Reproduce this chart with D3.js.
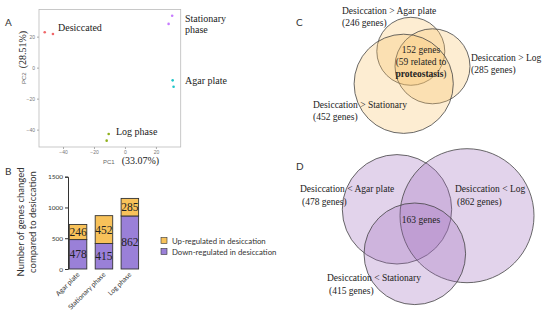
<!DOCTYPE html>
<meta charset="utf-8">
<style>
  body { margin: 0; background: #fff; }
  .serif { font-family: "Liberation Serif", serif; fill: #222; }
  .sans { font-family: Lato, "Open Sans", sans-serif; fill: #333; }
  .pca-axis path, .pca-axis line { stroke: #aaa; }
  .pca-axis text { fill: #777; font-family: "Liberation Sans", sans-serif; font-size: 5px; }
  .bar-axis path, .bar-axis line { stroke: #333; }
  .bar-axis text { fill: #333; font-family: Lato, sans-serif; font-size: 6.5px; }
</style>
<body>
<div id="chart"></div>
<script src="https://cdnjs.cloudflare.com/ajax/libs/d3/7.8.5/d3.min.js"></script>
<script>

// ---- data ----
var pcaGroups = ["Desiccated", "Stationary phase", "Agar plate", "Log phase"];
var pcaColors = ["#f0686a", "#c77cff", "#1ec6c8", "#8fb01c"];
var pc1 = [-51.8, -46.5, 30.5, 28.2, 30.8, 31.4, -10.5, -11.8];
var pc2 = [22.8, 21.7, 33.5, 28.2, -8.2, -12.3, -42.8, -47.1];
var pcaGroupOf = [0, 0, 1, 1, 2, 2, 3, 3];
var pcaTicks = [-40, -20, 0, 20];

var barCategories = ["Agar plate", "Stationary phase", "Log phase"];
var downRegulated = [478, 415, 862];
var upRegulated = [246, 452, 285];
var barTicks = [0, 500, 1000, 1500];

var vennUpLabels = ["Desiccation > Agar plate", "Desiccation > Log", "Desiccation > Stationary"];
var vennUpCounts = [246, 285, 452];
var vennUpCore = 152, vennUpProteo = 59;

var vennDownLabels = ["Desiccation < Agar plate", "Desiccation < Log", "Desiccation < Stationary"];
var vennDownCounts = [478, 862, 415];
var vennDownCore = 163;

// ---- svg ----
var svg = d3.select("#chart").append("svg")
    .attr("width", 550).attr("height", 320);

function panelLetter(t, x, y) {
  svg.append("text").attr("class", "sans").attr("x", x).attr("y", y)
     .attr("font-size", 10).text(t);
}

// ===== Panel A: PCA =====
panelLetter("A", 5, 26);
var xA = d3.scaleLinear().domain([-55.5, 36]).range([39, 180.7]);
var yA = d3.scaleLinear().domain([-51.2, 37.5]).range([147, 9.5]);

svg.append("rect").attr("x", 39).attr("y", 9.5).attr("width", 141.7).attr("height", 137.5)
   .attr("fill", "none").attr("stroke", "#bbb").attr("stroke-width", 0.8);

svg.append("g").attr("class", "pca-axis").attr("transform", "translate(0,147)")
   .call(d3.axisBottom(xA).tickValues(pcaTicks).tickSize(2).tickPadding(1))
   .select(".domain").remove();
svg.append("g").attr("class", "pca-axis").attr("transform", "translate(39,0)")
   .call(d3.axisLeft(yA).tickValues(pcaTicks).tickSize(2).tickPadding(2))
   .select(".domain").remove();

svg.append("g").selectAll("circle").data(pc1).enter().append("circle")
   .attr("cx", function (d) { return xA(d); })
   .attr("cy", function (d, i) { return yA(pc2[i]); })
   .attr("r", 1.3)
   .attr("fill", function (d, i) { return pcaColors[pcaGroupOf[i]]; });

var pcaLabelPos = [[58, 31], [185, 22], [185, 84], [116, 135]];
pcaGroups.forEach(function (g, i) {
  var t = svg.append("text").attr("class", "serif").attr("font-size", 10)
     .attr("x", pcaLabelPos[i][0]).attr("y", pcaLabelPos[i][1]);
  if (g === "Stationary phase") {
    t.append("tspan").attr("x", pcaLabelPos[i][0]).text("Stationary");
    t.append("tspan").attr("x", pcaLabelPos[i][0]).attr("dy", 11).text("phase");
  } else {
    t.text(g);
  }
});

// axis titles
var pc1t = svg.append("text").attr("x", 103).attr("y", 164);
pc1t.append("tspan").attr("font-family", "Liberation Sans, sans-serif").attr("font-size", 6).attr("fill", "#666").text("PC1");
pc1t.append("tspan").attr("class", "serif").attr("font-size", 10).attr("dx", 7).text("(33.07%)");

var pc2t = svg.append("text").attr("transform", "translate(26,84) rotate(-90)");
pc2t.append("tspan").attr("font-family", "Liberation Sans, sans-serif").attr("font-size", 6).attr("fill", "#666").text("PC2");
pc2t.append("tspan").attr("class", "serif").attr("font-size", 10).attr("dx", 4).text("(28.51%)");

// ===== Panel B: stacked bars =====
panelLetter("B", 5, 175);
var xB = d3.scaleBand().domain(barCategories).range([66.7, 141.2])
   .paddingInner(0.324).paddingOuter(0.1);
var yB = d3.scaleLinear().domain([0, 1500]).range([269, 176.7]);
var upColor = "#f8c25a", downColor = "#9a80d8";

svg.append("g").attr("class", "bar-axis").attr("transform", "translate(68,0)")
   .call(d3.axisLeft(yB).tickValues(barTicks).tickFormat(d3.format("d")).tickSize(3).tickPadding(2));

var bars = svg.append("g");
barCategories.forEach(function (c, i) {
  var x0 = xB(c), w = xB.bandwidth();
  var d = downRegulated[i], u = upRegulated[i];
  bars.append("rect").attr("x", x0).attr("y", yB(d)).attr("width", w)
      .attr("height", yB(0) - yB(d)).attr("fill", downColor)
      .attr("stroke", "#333").attr("stroke-width", 0.9);
  bars.append("rect").attr("x", x0).attr("y", yB(d + u)).attr("width", w)
      .attr("height", yB(d) - yB(d + u)).attr("fill", upColor)
      .attr("stroke", "#333").attr("stroke-width", 0.9);
  bars.append("text").attr("class", "serif").attr("font-size", 11.5)
      .attr("text-anchor", "middle").attr("x", x0 + w / 2)
      .attr("y", (yB(d) + yB(0)) / 2 + 4).text(d);
  bars.append("text").attr("class", "serif").attr("font-size", 11.5)
      .attr("text-anchor", "middle").attr("x", x0 + w / 2)
      .attr("y", (yB(d + u) + yB(d)) / 2 + 4).text(u);
  svg.append("text").attr("class", "sans").attr("font-size", 6.8)
      .attr("text-anchor", "end")
      .attr("transform", "translate(" + (x0 + w / 2 + 2) + ",275) rotate(-45)")
      .text(c);
});

var ytB = svg.append("text").attr("class", "sans").attr("font-size", 9.5)
   .attr("text-anchor", "middle").attr("transform", "translate(24,222) rotate(-90)");
ytB.append("tspan").attr("x", 0).text("Number of genes changed");
ytB.append("tspan").attr("x", 0).attr("dy", 12).text("compared to desiccation");

var legendItems = [["Up-regulated in desiccation", upColor], ["Down-regulated in desiccation", downColor]];
legendItems.forEach(function (l, i) {
  svg.append("rect").attr("x", 161).attr("y", 237.5 + i * 11).attr("width", 6).attr("height", 6)
     .attr("fill", l[1]).attr("stroke", "#333").attr("stroke-width", 0.6);
  svg.append("text").attr("class", "sans").attr("font-size", 7.8)
     .attr("x", 172).attr("y", 243.5 + i * 11).text(l[0]);
});

// ===== Panel C: Venn up =====
panelLetter("C", 296, 26);
var vennUpLayout = [{cx: 410.8, cy: 51.3, r: 34}, {cx: 432.5, cy: 66.3, r: 37.5}, {cx: 403.7, cy: 83.8, r: 49.6}];
svg.append("g").selectAll("circle").data(vennUpLayout).enter().append("circle")
   .attr("cx", function (d) { return d.cx; }).attr("cy", function (d) { return d.cy; })
   .attr("r", function (d) { return d.r; })
   .attr("fill", "#f7c46b").attr("fill-opacity", 0.3)
   .attr("stroke", "#444").attr("stroke-width", 0.8);

var upLabelPos = [[342, 14], [471, 61], [313, 108]];
vennUpLabels.forEach(function (l, i) {
  var t = svg.append("text").attr("class", "serif").attr("font-size", 9.5)
     .attr("x", upLabelPos[i][0]).attr("y", upLabelPos[i][1]);
  t.append("tspan").attr("x", upLabelPos[i][0]).text(l);
  t.append("tspan").attr("x", upLabelPos[i][0]).attr("dy", 12).text("(" + vennUpCounts[i] + " genes)");
});
var cc = svg.append("text").attr("class", "serif").attr("font-size", 9.5).attr("text-anchor", "middle");
cc.append("tspan").attr("x", 421).attr("y", 53).text(vennUpCore + " genes");
cc.append("tspan").attr("x", 421).attr("y", 65).text("(" + vennUpProteo + " related to");
var c3 = cc.append("tspan").attr("x", 421).attr("y", 77);
c3.append("tspan").attr("font-weight", "bold").text("proteostasis");
c3.append("tspan").text(")");

// ===== Panel D: Venn down =====
panelLetter("D", 296, 170);
var vennDownLayout = [{cx: 397, cy: 209.3, r: 54.7}, {cx: 467, cy: 215.7, r: 67}, {cx: 414.8, cy: 253.8, r: 50.8}];
svg.append("g").selectAll("circle").data(vennDownLayout).enter().append("circle")
   .attr("cx", function (d) { return d.cx; }).attr("cy", function (d) { return d.cy; })
   .attr("r", function (d) { return d.r; })
   .attr("fill", "#a06ebe").attr("fill-opacity", 0.3)
   .attr("stroke", "#444").attr("stroke-width", 0.8);

var downLabelPos = [[300, 192], [455, 192], [327, 281]];
vennDownLabels.forEach(function (l, i) {
  var t = svg.append("text").attr("class", "serif").attr("font-size", 9.5)
     .attr("x", downLabelPos[i][0]).attr("y", downLabelPos[i][1]);
  t.append("tspan").attr("x", downLabelPos[i][0]).text(l);
  t.append("tspan").attr("x", downLabelPos[i][0] + 2).attr("dy", 13).text("(" + vennDownCounts[i] + " genes)");
});
svg.append("text").attr("class", "serif").attr("font-size", 9.5).attr("text-anchor", "middle")
   .attr("x", 421).attr("y", 223).text(vennDownCore + " genes");

</script>
</body>
